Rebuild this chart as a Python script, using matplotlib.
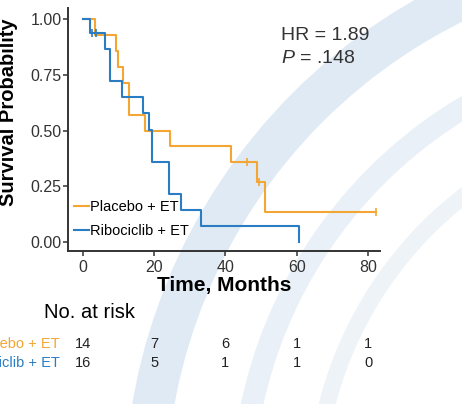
import matplotlib
matplotlib.use("Agg")
import matplotlib.pyplot as plt
import matplotlib.transforms as mtransforms
from matplotlib.patches import Circle

plt.rcParams['font.family'] = ['Liberation Sans', 'DejaVu Sans']
plt.rcParams['mathtext.fontset'] = 'custom'
plt.rcParams['mathtext.rm'] = 'Liberation Sans'
plt.rcParams['mathtext.it'] = 'Liberation Sans:italic'

# ---- data ----
placebo_times = [0, 3.4, 9.3, 10.0, 11.2, 13.1, 17.5, 24.5, 41.6, 48.9, 51.1, 82.1]
placebo_surv = [1.0, 0.929, 0.857, 0.786, 0.714, 0.571, 0.500, 0.429, 0.357, 0.268, 0.134, 0.134]
placebo_cens_t = [46.1, 49.4, 82.1]
placebo_cens_s = [0.357, 0.268, 0.134]

ribo_times = [0, 2.0, 6.2, 7.6, 10.9, 17.0, 18.6, 19.3, 24.3, 27.5, 33.2, 60.6]
ribo_surv = [1.0, 0.9375, 0.865, 0.721, 0.649, 0.577, 0.505, 0.361, 0.216, 0.144, 0.072, 0.0]
ribo_cens_t = [2.6, 3.8]
ribo_cens_s = [0.9375, 0.9375]

risk_times = [0, 20, 40, 60, 80]
placebo_risk = [14, 7, 6, 1, 1]
ribo_risk = [16, 5, 1, 1, 0]

series_labels = ["Placebo + ET", "Ribociclib + ET"]
hr_text = "HR = 1.89"
p_text = "$P$ = .148"

orange = "#F3A634"
blue = "#2B7DC3"
dark = "#222222"

W, H = 462, 404
fig = plt.figure(figsize=(W / 100, H / 100), dpi=100)
fig.patch.set_facecolor("white")

# faint decorative background arcs (slide watermark)
bg = fig.add_axes([0, 0, 1, 1], zorder=-10)
bg.set_xlim(0, W)
bg.set_ylim(H, 0)
bg.axis("off")
bg.add_patch(Circle((700, 500), 555, fill=False, lw=30, color="#D5E4F1", alpha=0.75))
bg.add_patch(Circle((700, 500), 458, fill=False, lw=16, color="#E1EBF4", alpha=0.7))
bg.add_patch(Circle((700, 500), 385, fill=False, lw=12, color="#E8EFF6", alpha=0.7))

ax = fig.add_axes([68 / W, 1 - 251 / H, (380 - 68) / W, (251 - 8) / H])
ax.set_facecolor("none")

ax.step(placebo_times, placebo_surv, where="post", color=orange, lw=1.5, label=series_labels[0])
ax.step(ribo_times, ribo_surv, where="post", color=blue, lw=1.5, label=series_labels[1])
ax.plot(placebo_cens_t, placebo_cens_s, ls="none", marker="|", ms=6, mew=1.2, color=orange)
ax.plot(ribo_cens_t, ribo_cens_s, ls="none", marker="|", ms=6, mew=1.2, color=blue)

ax.set_xlim(-4.1, 83.3)
ax.set_ylim(-0.04, 1.05)
ax.set_xticks(risk_times)
ax.set_yticks([0, 0.25, 0.5, 0.75, 1.0])
ax.set_yticklabels(["0.00", "0.25", "0.50", "0.75", "1.00"])
for s in ["top", "right"]:
    ax.spines[s].set_visible(False)
for s in ["left", "bottom"]:
    ax.spines[s].set_color("#333333")
    ax.spines[s].set_linewidth(1.4)
ax.tick_params(axis="both", labelsize=11.5, colors="#333333", length=3.5, width=1.1)
ax.tick_params(axis="y", pad=1)
ax.tick_params(axis="x", pad=3)

ax.set_xlabel("Time, Months", fontsize=15, fontweight="bold", labelpad=1)
fig.text(14 / W, 1 - 112 / H, "Survival Probability", rotation=90, rotation_mode="anchor",
         ha="center", va="baseline", fontsize=14.5, fontweight="bold", color="black")

leg = ax.legend(loc="lower left", bbox_to_anchor=(0.005, 0.035), frameon=False, fontsize=10.5,
                handlelength=1.0, handletextpad=0.12, labelspacing=0.66, borderaxespad=0.2,
                borderpad=0.1)

fig.text(281 / W, 1 - 40 / H, hr_text, fontsize=14, color="#333333", va="baseline")
fig.text(281 / W, 1 - 63 / H, p_text, fontsize=14, color="#333333", va="baseline")

# risk table
fig.text(44 / W, 1 - 312 / H, "No. at risk", fontsize=14.5, color="black", va="center")
tr = mtransforms.blended_transform_factory(ax.transData, fig.transFigure)
for t, n in zip(risk_times, placebo_risk):
    ax.text(t, 1 - 344 / H, str(n), transform=tr, ha="center", va="center", fontsize=10.5, color=dark)
for t, n in zip(risk_times, ribo_risk):
    ax.text(t, 1 - 363 / H, str(n), transform=tr, ha="center", va="center", fontsize=10.5, color=dark)
fig.text(60 / W, 1 - 344 / H, series_labels[0], ha="right", va="center", fontsize=10.5, color=orange)
fig.text(60 / W, 1 - 363 / H, series_labels[1], ha="right", va="center", fontsize=10.5, color=blue)

fig.savefig("out.png", dpi=100)
